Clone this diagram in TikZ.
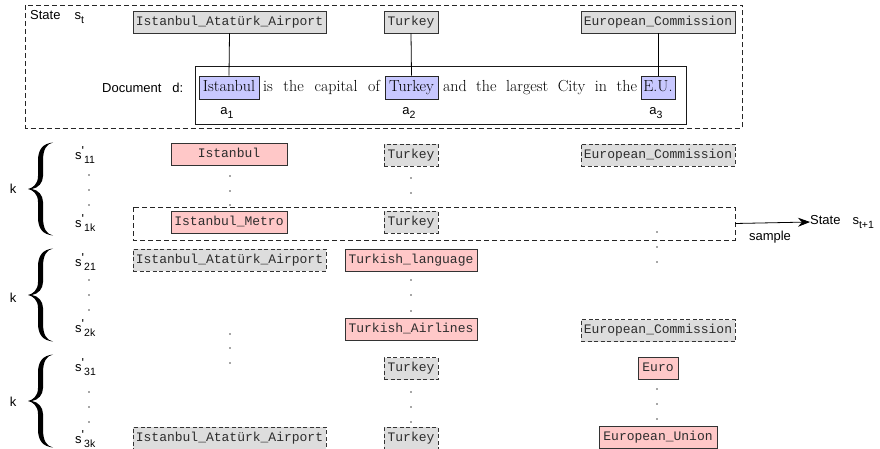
\documentclass[tikz,border=0pt]{standalone}
\usepackage{fontspec}
\setsansfont{Liberation Sans}
\setmonofont{Liberation Mono}
\usetikzlibrary{arrows.meta}
\definecolor{boxgray}{RGB}{221,221,221}
\definecolor{boxpink}{RGB}{255,200,200}
\definecolor{boxblue}{RGB}{200,200,255}
\definecolor{txtgray}{RGB}{45,45,45}
\newcommand\subs[1]{\raisebox{-0.5ex}{\fontsize{10.5}{10.5}\selectfont #1}}
\newcommand\prm{\raisebox{0.55ex}{\fontsize{13}{13}\selectfont\textquotesingle}}
\tikzset{
  ent/.style={draw=black!80, line width=0.7pt, font=\fontsize{13}{13}\ttfamily, text=txtgray,
              minimum height=22pt, inner sep=1pt, text height=9pt, text depth=2.5pt},
  topent/.style={ent, fill=boxgray},
  grayent/.style={ent, fill=boxgray, dashed, dash pattern=on 4pt off 2.5pt},
  pinkent/.style={ent, fill=boxpink},
  hl/.style={draw=black!85, line width=0.7pt, fill=boxblue, font=\fontsize{16}{16}\selectfont,
             minimum height=23pt, inner sep=1pt, text height=11pt, text depth=3.5pt},
  doctxt/.style={font=\fontsize{16}{16}\selectfont, inner sep=0pt, text height=11pt, text depth=3.5pt},
  lbl/.style={font=\fontsize{13}{13}\sffamily, inner sep=0pt},
  dashbox/.style={draw=black!85, line width=0.8pt, dashed, dash pattern=on 5pt off 3pt},
  dotmark/.style={circle, fill=black!70, inner sep=0pt, minimum size=1.6pt},
  curly/.pic={
    \fill[black] (25,-46.5) .. controls (15,-45.5) and (10,-40) .. (10,-28) -- (10,-13)
      .. controls (10,-5) and (5,-1) .. (0,0)
      .. controls (5,1) and (10,5) .. (10,13) -- (10,28)
      .. controls (10,40) and (15,45.5) .. (25,46.5)
      .. controls (18.5,45) and (15,40) .. (15,28) -- (15,13)
      .. controls (15,6) and (10,1) .. (4,0)
      .. controls (10,-1) and (15,-6) .. (15,-13) -- (15,-28)
      .. controls (15,-40) and (18.5,-45) .. (25,-46.5) -- cycle;
  }
}
\begin{document}
\begin{tikzpicture}[x=1pt,y=-1pt]
\useasboundingbox (0,0) rectangle (880,449);
% ---------- State s_t ----------
\draw[dashbox] (25.5,5) rectangle (742,128);
\node[lbl, anchor=west] (st) at (30,17) {State\hspace{14pt}s\subs{t}};
\node[topent, minimum width=193pt] (t1) at (229.5,22) {Istanbul\_Atatürk\_Airport};
\node[topent, minimum width=54pt] (t2) at (411,22) {Turkey};
\node[topent, minimum width=154pt] (t3) at (658,22) {European\_Commission};
\draw[line width=0.8pt, black!90] (195,66) rectangle (686,124);
\node[lbl, anchor=west] (doc) at (102,88) {Document\hspace{11pt}d:};
\node[hl, minimum width=60pt] (h1) at (229,87.5) {Istanbul};
\node[hl, minimum width=53pt] (h2) at (411.5,87.5) {Turkey};
\node[hl, minimum width=34pt] (h3) at (658,87.5) {E.U.};
\node[doctxt] (w1) at (321.5,87.5) {\makebox[117pt][s]{is the capital of}};
\node[doctxt] (w2) at (540,87.5) {\makebox[194pt][s]{and the largest City in the}};
\draw[line width=0.8pt] (t1.south) -- (h1.north);
\draw[line width=0.8pt] (t2.south) -- (h2.north);
\draw[line width=0.8pt] (t3.south) -- (h3.north);
\node[lbl] (a1) at (227,113) {a\subs{1}};
\node[lbl] (a2) at (409,113) {a\subs{2}};
\node[lbl] (a3) at (656,113) {a\subs{3}};
% ---------- braces ----------
\node[lbl] (k1) at (13,189) {k};
\node[lbl] (k2) at (13,298) {k};
\node[lbl] (k3) at (13,402) {k};
\pic at (28,189) {curly};
\pic at (28,295) {curly};
\pic at (28,401) {curly};
% ---------- s' labels ----------
\node[lbl, anchor=west] (s11) at (75,155) {s\prm\subs{11}};
\node[lbl, anchor=west] (s1k) at (75,223) {s\prm\subs{1k}};
\node[lbl, anchor=west] (s21) at (75,262) {s\prm\subs{21}};
\node[lbl, anchor=west] (s2k) at (75,328) {s\prm\subs{2k}};
\node[lbl, anchor=west] (s31) at (75,367) {s\prm\subs{31}};
\node[lbl, anchor=west] (s3k) at (75,439) {s\prm\subs{3k}};
% ---------- row 1 ----------
\node[pinkent, minimum width=116pt] (r11a) at (229,154) {Istanbul};
\node[grayent, minimum width=54pt] (r11b) at (411,155) {Turkey};
\node[grayent, minimum width=154pt] (r11c) at (658,155) {European\_Commission};
\draw[dashbox] (133,207) rectangle (735,240);
\coordinate (rowr) at (735,223.5);
\node[pinkent, minimum width=116pt] (r1ka) at (229,222.5) {Istanbul\_Metro};
\node[grayent, minimum width=54pt] (r1kb) at (411,222) {Turkey};
\node[lbl, anchor=west] (st1) at (810,222) {State\hspace{12pt}s\subs{t+1}};
\draw[line width=0.8pt, -{Stealth[length=12pt,width=9pt]}] (rowr) -- (st1.west);
\node[lbl] (smp) at (770,237) {sample};
% ---------- row 2 ----------
\node[grayent, minimum width=193pt] (r21a) at (229.5,260) {Istanbul\_Atatürk\_Airport};
\node[pinkent, minimum width=132pt] (r21b) at (411,260) {Turkish\_language};
\node[pinkent, minimum width=132pt] (r2kb) at (411,329) {Turkish\_Airlines};
\node[grayent, minimum width=154pt] (r2kc) at (658,330.5) {European\_Commission};
% ---------- row 3 ----------
\node[grayent, minimum width=54pt] (r31b) at (411,368.5) {Turkey};
\node[pinkent, minimum width=40pt] (r31c) at (658,368.5) {Euro};
\node[grayent, minimum width=193pt] (r3ka) at (229.5,438) {Istanbul\_Atatürk\_Airport};
\node[grayent, minimum width=54pt] (r3kb) at (411,438) {Turkey};
\node[pinkent, minimum width=118pt] (r3kc) at (658,437.5) {European\_Union};
% ---------- dots ----------
\foreach \y [count=\i] in {175,190,205,280,295,310,392,407,422} \node[dotmark] (ds\i) at (89,\y) {};
\foreach \y [count=\i] in {176,191,205,334,348,363} \node[dotmark] (da\i) at (230,\y) {};
\foreach \y [count=\i] in {178,193,208,280,295,311,392,407,422} \node[dotmark] (db\i) at (411,\y) {};
\foreach \y [count=\i] in {232,247,262,389,404,419} \node[dotmark] (dc\i) at (657,\y) {};
\end{tikzpicture}
\end{document}
